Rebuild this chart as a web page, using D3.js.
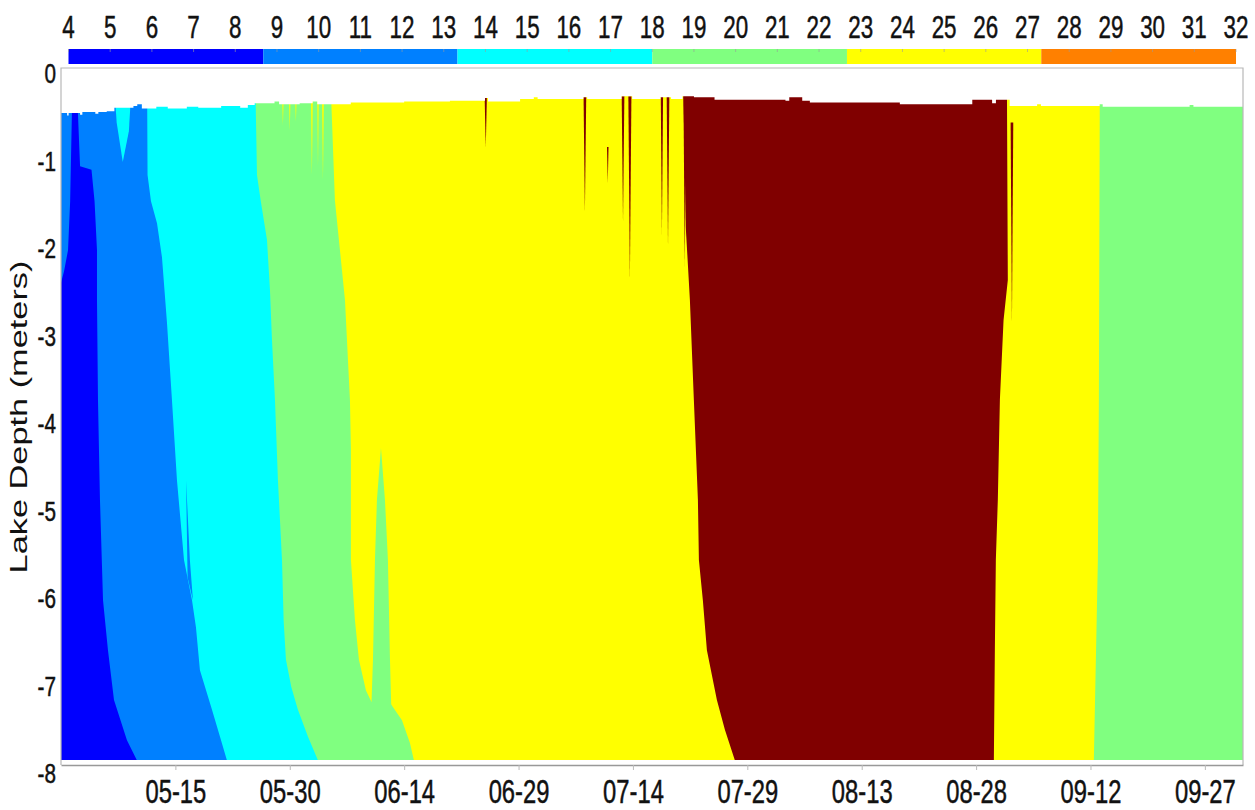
<!DOCTYPE html>
<html>
<head>
<meta charset="utf-8">
<title>Lake temperature by depth</title>
<script src="https://cdn.jsdelivr.net/npm/d3@7"></script>
<style>
  body { margin: 0; background: #fff; }
  svg text { font-family: "Liberation Sans", Arial, sans-serif; fill: #111; }
</style>
</head>
<body>
<div id="chart"></div>
<script>

// temperature classes shown on the bar (deg C)
const classBreaks = [4, 8.67, 13.33, 18, 22.67, 27.33, 32];
const classColors = ["#0000ff", "#0080ff", "#00ffff", "#80ff80", "#ffff00", "#ff8000"];
const hotColor = "#800000";
const barTicks = d3.range(4, 33);

const startDate = "2019-04-30", endDate = "2019-10-02";
const dateTicks = ["05-15", "05-30", "06-14", "06-29", "07-14", "07-29", "08-13", "08-28", "09-12", "09-27"];
const depthTicks = [0, -1, -2, -3, -4, -5, -6, -7, -8];

// region edges: [depth m, days after start]
const midBlueCyan = [[0.05,11.28],[-1.2,11.35],[-1.5,11.8],[-1.75,12.59],[-2.14,13.24],[-2.89,13.9],[-3.77,14.55],[-4.69,15.21],[-5.6,16.13],[-6.06,17.18],[-6.37,17.7],[-6.86,18.22],[-7.31,19.8],[-7.62,20.85],[-7.89,21.76]];
const cyanGreen = [[0.05,25.44],[-1.2,25.7],[-1.5,26.2],[-1.94,27.01],[-2.51,27.4],[-3.09,27.67],[-3.77,28.06],[-4.69,28.45],[-5.6,28.98],[-6.3,29.2],[-6.74,29.5],[-7.05,30.2],[-7.31,31.07],[-7.62,32.39],[-7.89,33.7]];
const greenYellow = [[0.05,35.27],[-1.49,35.92],[-2.63,37.24],[-3.77,37.89],[-4.34,38.02],[-5.6,38.02],[-6.29,38.55],[-6.74,39.07],[-7.09,39.99],[-7.22,40.7],[-7.25,43.3],[-7.43,44.71],[-7.69,45.76],[-7.89,46.28]];
const yellowHot = [[0.05,81.55],[-1.83,81.95],[-2.63,82.47],[-3.77,82.99],[-4.91,83.52],[-5.6,83.65],[-6.06,84.17],[-6.63,84.7],[-7.2,86.01],[-7.54,87.06],[-7.89,88.37]];
const hotYellow = [[0.05,124.03],[-2.4,124.16],[-2.86,123.6],[-3.77,123.12],[-4.91,122.85],[-5.6,122.59],[-6.63,122.46],[-7.89,122.33]];
const yellowGreen = [[0.05,136.23],[-3.77,136.1],[-5.6,135.97],[-7.89,135.44]];

const darkBlueLeft = [[-0.45,1.44],[-1.5,1.2],[-2.06,0.92],[-2.3,0.4],[-2.43,0],[-7.89,0]];
const darkBlueRight = [[-0.45,2.2],[-1.1,2.5],[-1.14,4.0],[-1.5,4.4],[-2.06,4.72],[-2.63,4.72],[-3.77,4.85],[-4.91,5.11],[-6.06,5.51],[-6.63,6.16],[-7.2,6.95],[-7.66,8.65],[-7.89,9.96]];

const cyanWedge = [[0.05,6.8],[0.05,9.4],[-0.7,8.9],[-1.05,8.1],[-0.6,7.3]];
const blueSliver = [[-4.69,16.4],[-5.6,16.9],[-6.06,17.3],[-5.8,16.6]];
const greenSpike = [[-4.32,41.96],[-4.91,41.43],[-5.6,41.17],[-6.74,40.91],[-7.22,40.72],[-7.4,41.0],[-7.4,43.6],[-7.25,43.3],[-6.74,43.14],[-5.6,42.87],[-4.91,42.48]];

// thin streaks: [days, top depth, bottom depth, width days]
const hotStreaks = [[55.7,-0.3,-0.89,0.3],[68.7,-0.3,-1.63,0.35],[71.7,-0.88,-1.29,0.2],[73.7,-0.3,-1.74,0.35],[74.6,-0.3,-2.4,0.4],[78.8,-0.3,-1.89,0.3],[79.6,-0.3,-2.02,0.35],[81.8,-0.3,-2.25,0.35],[124.7,-0.6,-2.9,0.35]];
const warmStreaks = [[29.1,-0.3,-0.63,0.2],[30.0,-0.3,-0.69,0.2],[30.8,-0.3,-0.59,0.2],[32.9,-0.3,-1.2,0.25],[33.7,-0.3,-1.09,0.2],[34.35,-0.3,-1.26,0.25]];

// top of the measured water column: [days, depth m]
const surface = [[0,-0.49],[0.8,-0.52],[1.0,-0.49],[2.5,-0.51],[2.8,-0.48],[4.5,-0.5],[4.9,-0.48],[6.0,-0.47],[7.0,-0.43],[9.5,-0.41],[10.0,-0.39],[10.6,-0.44],[12.5,-0.42],[14,-0.44],[16.5,-0.42],[18,-0.43],[21,-0.41],[23.5,-0.43],[24.5,-0.4],[25.4,-0.38],[28,-0.36],[28.6,-0.39],[31.3,-0.38],[33,-0.36],[33.6,-0.39],[35.3,-0.39],[38,-0.37],[40.1,-0.37],[45,-0.36],[51,-0.35],[55.6,-0.32],[56,-0.36],[60.2,-0.33],[62,-0.31],[62.5,-0.33],[68.5,-0.31],[69,-0.33],[73.5,-0.3],[74.9,-0.33],[78.6,-0.31],[80,-0.33],[81.5,-0.3],[83,-0.31],[85.7,-0.34],[95,-0.35],[95.5,-0.31],[97.2,-0.35],[98.2,-0.37],[110,-0.39],[118.9,-0.39],[119.5,-0.34],[122.1,-0.38],[122.6,-0.34],[124.2,-0.34],[124.4,-0.41],[128,-0.39],[128.5,-0.41],[136.2,-0.39],[136.6,-0.42],[148,-0.4],[148.5,-0.42],[155,-0.42]];

var W = 1255, H = 810;
var plotLeft = 61, plotRight = 1243, plotTop = 68, axisY = 765, dataBottom = 760;
var labelFont = "\"Liberation Sans\", Arial, sans-serif";

var svg = d3.select("#chart").append("svg")
            .attr("width", W).attr("height", H);

var t0 = d3.utcParse("%Y-%m-%d")(startDate),
    t1 = d3.utcParse("%Y-%m-%d")(endDate);
var x = d3.scaleUtc().domain([t0, t1]).range([plotLeft, plotRight]);
var y = d3.scaleLinear().domain([0, -8]).range([70, 770]);
var xDay = (d) => x(new Date(+t0 + d * 864e5));

svg.append("clipPath").attr("id", "plotClip")
   .append("rect").attr("x", plotLeft).attr("y", plotTop)
   .attr("width", plotRight - plotLeft).attr("height", dataBottom - plotTop);

var plot = svg.append("g").attr("clip-path", "url(#plotClip)");

// base colour then every region from its left edge to the end
var toEnd = d3.area().y(p => y(p[0])).x0(p => xDay(p[1])).x1(plotRight);
var poly = d3.line().x(p => xDay(p[1])).y(p => y(p[0]));

plot.append("rect").attr("x", plotLeft).attr("y", plotTop)
    .attr("width", plotRight - plotLeft).attr("height", dataBottom - plotTop)
    .attr("fill", classColors[1]);

var regions = [
  { edge: midBlueCyan, color: classColors[2] },
  { edge: cyanGreen,   color: classColors[3] },
  { edge: greenYellow, color: classColors[4] },
  { edge: yellowHot,   color: hotColor },
  { edge: hotYellow,   color: classColors[4] },
  { edge: yellowGreen, color: classColors[3] }
];
plot.selectAll("path.region").data(regions).enter()
    .append("path").attr("class", "region")
    .attr("d", r => toEnd(r.edge))
    .attr("fill", r => r.color);

var darkBlue = darkBlueLeft.concat(darkBlueRight.slice().reverse());
var patches = [
  { pts: darkBlue,   color: classColors[0] },
  { pts: cyanWedge,  color: classColors[2] },
  { pts: blueSliver, color: classColors[1] },
  { pts: greenSpike, color: classColors[3] }
];
hotStreaks.forEach(s => patches.push({ pts: [[s[1], s[0] - s[3]/2], [s[1], s[0] + s[3]/2], [s[2], s[0]]], color: hotColor }));
warmStreaks.forEach(s => patches.push({ pts: [[s[1], s[0] - s[3]/2], [s[1], s[0] + s[3]/2], [s[2], s[0]]], color: classColors[4] }));

plot.selectAll("path.patch").data(patches).enter()
    .append("path").attr("class", "patch")
    .attr("d", p => poly(p.pts) + "Z")
    .attr("fill", p => p.color);

// white above the water surface
plot.append("path")
    .attr("d", d3.area().x(p => xDay(p[0])).y0(plotTop).y1(p => y(p[1])).curve(d3.curveStepAfter)(surface))
    .attr("fill", "#fff");

// frame
svg.append("path")
   .attr("d", "M" + plotLeft + "," + axisY + "V" + plotTop + "H" + plotRight + "V" + axisY)
   .attr("fill", "none").attr("stroke", "#b8b8b8").attr("stroke-width", 1.2);

// x axis
var parseTick = (s) => d3.utcParse("%Y-%m-%d")("2019-" + s);
var xAxis = svg.append("g").attr("transform", "translate(0," + axisY + ")")
   .call(d3.axisBottom(x).tickValues(dateTicks.map(parseTick))
           .tickFormat(d3.utcFormat("%m-%d")).tickSize(5).tickSizeOuter(0));
xAxis.select(".domain").attr("stroke", "#999").attr("stroke-width", 1.6);
xAxis.selectAll(".tick line").attr("stroke", "#bbb");
xAxis.selectAll(".tick text")
   .attr("y", 38).attr("dy", 0)
   .attr("font-size", 34)
   .attr("transform", "scale(0.7,1)")
   .style("font-family", labelFont)
   .attr("fill", "#111").attr("stroke", "#111").attr("stroke-width", 0.5);

// y axis
var yAxis = svg.append("g").attr("transform", "translate(" + plotLeft + ",0)")
   .call(d3.axisLeft(y).tickValues(depthTicks).tickFormat(d => String(d)).tickSize(0));
yAxis.select(".domain").remove();
yAxis.selectAll(".tick text")
   .attr("x", -6.8).attr("dy", "0.45em")
   .attr("font-size", 28)
   .attr("transform", "scale(0.74,1)")
   .style("font-family", labelFont)
   .attr("fill", "#111").attr("stroke", "#111").attr("stroke-width", 0.5);

svg.append("text")
   .attr("transform", "translate(27,417) rotate(-90) scale(1.43,1)")
   .attr("text-anchor", "middle")
   .attr("font-size", 24)
   .attr("fill", "#222")
   .text("Lake Depth (meters)");

// colour bar
var cb = d3.scaleLinear().domain([4, 32]).range([68.5, 1236]);
var cbY = 49, cbH = 15;
svg.selectAll("rect.cb").data(classColors).enter()
   .append("rect").attr("class", "cb")
   .attr("x", (c, i) => cb(classBreaks[i]))
   .attr("width", (c, i) => cb(classBreaks[i + 1]) - cb(classBreaks[i]))
   .attr("y", cbY).attr("height", cbH)
   .attr("fill", c => c);

svg.selectAll("line.cbtick").data(barTicks).enter()
   .append("line").attr("class", "cbtick")
   .attr("x1", v => cb(v)).attr("x2", v => cb(v))
   .attr("y1", cbY).attr("y2", cbY + 3)
   .attr("stroke", "#999").attr("stroke-opacity", 0.6);

svg.selectAll("text.cblabel").data(barTicks).enter()
   .append("text").attr("class", "cblabel")
   .attr("transform", v => "translate(" + cb(v) + ",38) scale(0.7,1)")
   .attr("text-anchor", "middle")
   .attr("font-size", 32)
   .attr("stroke", "#111").attr("stroke-width", 0.5)
   .text(v => v);

</script>
</body>
</html>
